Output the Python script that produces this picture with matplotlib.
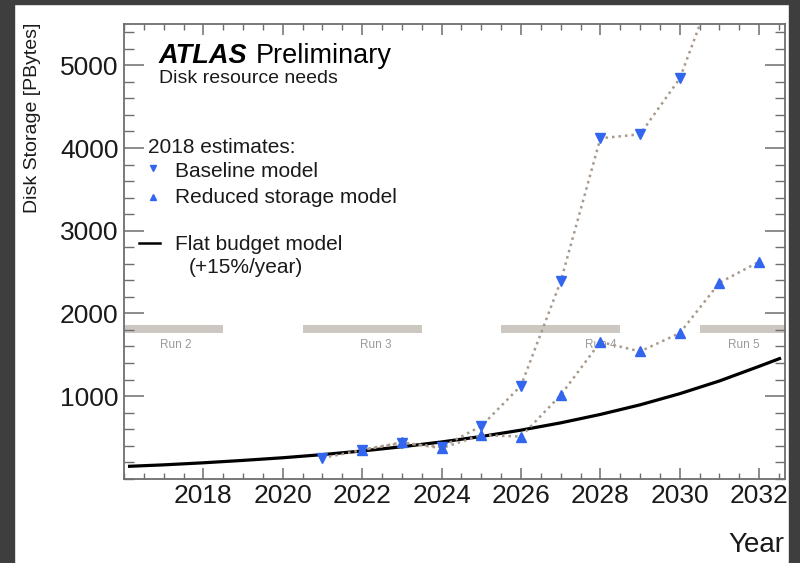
import numpy as np
import matplotlib.pyplot as plt
from matplotlib.patches import Rectangle
from matplotlib.lines import Line2D
from matplotlib.ticker import MultipleLocator

plt.rcParams['font.family'] = ['Liberation Sans', 'DejaVu Sans']

# data
base_years = [2021, 2022, 2023, 2024, 2025, 2026, 2027, 2028, 2029, 2030, 2031]
base_disk = [251, 347, 432, 384, 637, 1125, 2387, 4118, 4166, 4842, 6130]

red_years = [2022, 2023, 2024, 2025, 2026, 2027, 2028, 2029, 2030, 2031, 2032]
red_disk = [350, 440, 370, 528, 510, 1012, 1655, 1540, 1761, 2371, 2625]

flat_years = [2016.1, 2017, 2018, 2019, 2020, 2021, 2022, 2023, 2024, 2025,
              2026, 2027, 2028, 2029, 2030, 2031, 2032, 2032.55]
flat_disk = [150, 168, 193, 222, 254, 292, 336, 387, 445, 511,
             588, 676, 778, 894, 1029, 1183, 1360, 1460]

run_names = ['Run 2', 'Run 3', 'Run 4', 'Run 5']
run_start = [2016.0, 2020.5, 2025.5, 2030.5]
run_end = [2018.5, 2023.5, 2028.5, 2033.0]
run_label_x = [2017.3, 2022.35, 2028.0, 2031.6]

W, H = 800, 563
fig = plt.figure(figsize=(8, 5.63), dpi=100)
fig.patch.set_facecolor('white')

def fx(px):
    return px / W

def fy(py):
    return 1 - py / H

ax = fig.add_axes([fx(124), fy(478.75), fx(785) - fx(124), fy(24) - fy(478.75)])
ax.set_xlim(2016, 2032.65)
ax.set_ylim(0, 5500)

blue = '#3366ee'
dotc = '#a8998c'
runc = '#cdc7c2'

# run periods
for nm, s, e, lx in zip(run_names, run_start, run_end, run_label_x):
    ax.barh(1806, e - s, left=s, height=97, color=runc, zorder=1, clip_on=True)
    ax.text(lx, 1616, nm, fontsize=8.5, color='#9a9a9a', ha='center', va='center', zorder=2)

ax.plot(flat_years, flat_disk, color='black', lw=2.3, zorder=3, solid_capstyle='butt')
ax.plot(base_years, base_disk, color=dotc, lw=1.8, ls=(0, (1, 1.6)), zorder=4)
ax.plot(red_years, red_disk, color=dotc, lw=1.8, ls=(0, (1, 1.6)), zorder=4)
ax.plot(base_years, base_disk, ls='none', marker='v', ms=7, color=blue, mec=blue, zorder=5)
ax.plot(red_years, red_disk, ls='none', marker='^', ms=7, color=blue, mec=blue, zorder=5)

# axes styling
spc = '#6e6e6e'
for sp in ax.spines.values():
    sp.set_color(spc)
    sp.set_linewidth(1.3)
ax.xaxis.set_minor_locator(MultipleLocator(0.5))
ax.set_xticks([2018, 2020, 2022, 2024, 2026, 2028, 2030, 2032])
ax.set_yticks([1000, 2000, 3000, 4000, 5000])
ax.yaxis.set_minor_locator(MultipleLocator(200))
ax.tick_params(axis='x', which='major', direction='in', length=8, width=1.1, color=spc,
               top=True, bottom=True, labelsize=19, pad=4, labelcolor='#1a1a1a')
ax.tick_params(axis='x', which='minor', direction='in', length=4.5, width=1.0, color=spc,
               top=True, bottom=True)
ax.tick_params(axis='y', which='major', direction='in', length=14.5, width=1.1, color=spc,
               left=True, right=True, labelsize=19, pad=4, labelcolor='#1a1a1a')
ax.tick_params(axis='y', which='minor', direction='in', length=7, width=1.0, color=spc,
               left=True, right=True)

# axis titles
fig.text(fx(33), fy(23), 'Disk Storage [PBytes]', rotation=90, fontsize=14,
         ha='center', va='top', color='#1a1a1a')
fig.text(fx(784), fy(545), 'Year', fontsize=20, ha='right', va='center', color='#1a1a1a')

# header
fig.text(fx(159), fy(63), 'ATLAS', fontsize=19.5, fontweight='bold', fontstyle='italic',
         ha='left', va='baseline', color='black')
fig.text(fx(256), fy(63), 'Preliminary', fontsize=19.5, ha='left', va='baseline', color='black')
fig.text(fx(159), fy(83), 'Disk resource needs', fontsize=14, ha='left', va='baseline',
         color='#1a1a1a')

# legend
fs = 15
fig.text(fx(148), fy(153), '2018 estimates:', fontsize=fs, ha='left', va='baseline', color='#1a1a1a')
fig.text(fx(175), fy(177), 'Baseline model', fontsize=fs, ha='left', va='baseline', color='#1a1a1a')
fig.text(fx(175), fy(203), 'Reduced storage model', fontsize=fs, ha='left', va='baseline', color='#1a1a1a')
fig.text(fx(175), fy(250), 'Flat budget model', fontsize=fs, ha='left', va='baseline', color='#1a1a1a')
fig.text(fx(189), fy(273), '(+15%/year)', fontsize=fs, ha='left', va='baseline', color='#1a1a1a')
fig.add_artist(Line2D([fx(153)], [fy(168)], marker='v', ms=5, color=blue, ls='none'))
fig.add_artist(Line2D([fx(153)], [fy(197)], marker='^', ms=5, color=blue, ls='none'))
fig.add_artist(Line2D([fx(139), fx(160)], [fy(243), fy(243)], color='black', lw=1.8))

# dark frame around the screenshot
dark = '#3e3e3e'
fig.patches.append(Rectangle((0, 0), fx(14), 1, transform=fig.transFigure, color=dark, zorder=0))
fig.patches.append(Rectangle((0, fy(4)), 1, fy(0) - fy(4), transform=fig.transFigure, color=dark, zorder=0))
fig.patches.append(Rectangle((fx(789), 0), 1 - fx(789), 1, transform=fig.transFigure, color=dark, zorder=0))

fig.savefig('out.png', dpi=100)
